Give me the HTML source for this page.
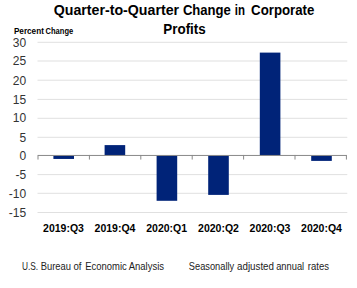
<!DOCTYPE html>
<html><head><meta charset="utf-8">
<style>
html,body{margin:0;padding:0;background:#fff;width:357px;height:288px;overflow:hidden}
svg{display:block}
text{font-family:"Liberation Sans",sans-serif}
</style></head>
<body>
<svg width="357" height="288" viewBox="0 0 357 288">
<rect width="357" height="288" fill="#fff"/>
<!-- gridlines -->
<g fill="#e0e0e0">
<rect x="37.5" y="41.80" width="309.8" height="1"/>
<rect x="37.5" y="60.50" width="309.8" height="1"/>
<rect x="37.5" y="79.70" width="309.8" height="1"/>
<rect x="37.5" y="98.90" width="309.8" height="1"/>
<rect x="37.5" y="117.80" width="309.8" height="1"/>
<rect x="37.5" y="136.80" width="309.8" height="1"/>
<rect x="37.5" y="174.10" width="309.8" height="1"/>
<rect x="37.5" y="192.80" width="309.8" height="1"/>
<rect x="37.5" y="212.00" width="309.8" height="1"/>
</g>
<!-- bars -->
<g fill="#002378">
<rect x="53.4" y="155.45" width="20.6" height="3.5"/>
<rect x="104.6" y="145.1" width="20.6" height="10.35"/>
<rect x="156.6" y="155.45" width="20.6" height="45.35"/>
<rect x="208.2" y="155.45" width="20.6" height="39.45"/>
<rect x="259.8" y="52.6" width="20.6" height="102.85"/>
<rect x="311.2" y="155.45" width="20.6" height="5.45"/>
</g>
<!-- axis -->
<g fill="#898989">
<rect x="38" y="154.95" width="308.4" height="1"/>
<rect x="37.50" y="154.95" width="1" height="4.6"/>
<rect x="88.90" y="154.95" width="1" height="4.6"/>
<rect x="140.30" y="154.95" width="1" height="4.6"/>
<rect x="191.70" y="154.95" width="1" height="4.6"/>
<rect x="243.10" y="154.95" width="1" height="4.6"/>
<rect x="294.50" y="154.95" width="1" height="4.6"/>
<rect x="345.90" y="154.95" width="1" height="4.6"/>
</g>
<!-- title -->
<g font-weight="bold" fill="#000" font-size="14">
<text x="53.75" y="15.2" textLength="125.3" lengthAdjust="spacingAndGlyphs">Quarter-to-Quarter</text>
<text x="182.9" y="15.2" textLength="48.01" lengthAdjust="spacingAndGlyphs">Change</text>
<text x="234.8" y="15.2" textLength="10.2" lengthAdjust="spacingAndGlyphs">in</text>
<text x="251.1" y="15.2" textLength="63.3" lengthAdjust="spacingAndGlyphs">Corporate</text>
<text x="163.3" y="33.9" textLength="42.44" lengthAdjust="spacingAndGlyphs">Profits</text>
</g>
<g font-weight="bold" font-size="8.2" fill="#000">
<text x="13.9" y="33.8" textLength="30.0" lengthAdjust="spacingAndGlyphs">Percent</text>
<text x="45.6" y="33.8" textLength="27.6" lengthAdjust="spacingAndGlyphs">Change</text>
</g>
<!-- y labels -->
<g font-size="12" fill="#333" text-anchor="end">
<text x="26.1" y="46.60">30</text>
<text x="26.1" y="65.30">25</text>
<text x="26.1" y="84.50">20</text>
<text x="26.1" y="103.70">15</text>
<text x="26.1" y="122.40">10</text>
<text x="26.1" y="141.60">5</text>
<text x="26.1" y="159.75">0</text>
<text x="26.1" y="178.90">-5</text>
<text x="26.1" y="197.60">-10</text>
<text x="26.1" y="216.80">-15</text>
</g>
<!-- x labels -->
<g font-size="10.5" font-weight="bold" fill="#000" text-anchor="middle">
<text x="63.5" y="232">2019:Q3</text>
<text x="115" y="232">2019:Q4</text>
<text x="166.7" y="232">2020:Q1</text>
<text x="218.5" y="232">2020:Q2</text>
<text x="270" y="232">2020:Q3</text>
<text x="321.5" y="232">2020:Q4</text>
</g>
<!-- footer -->
<g font-size="10.3" fill="#222">
<text x="21.9" y="269.9" textLength="16.2" lengthAdjust="spacingAndGlyphs">U.S.</text>
<text x="40.8" y="269.9" textLength="30.2" lengthAdjust="spacingAndGlyphs">Bureau</text>
<text x="73.4" y="269.9" textLength="8.03" lengthAdjust="spacingAndGlyphs">of</text>
<text x="85.3" y="269.9" textLength="41.4" lengthAdjust="spacingAndGlyphs">Economic</text>
<text x="128.7" y="269.9" textLength="35.4" lengthAdjust="spacingAndGlyphs">Analysis</text>
<text x="188.8" y="269.9" textLength="45.4" lengthAdjust="spacingAndGlyphs">Seasonally</text>
<text x="237.0" y="269.9" textLength="37.0" lengthAdjust="spacingAndGlyphs">adjusted</text>
<text x="276.2" y="269.9" textLength="28.0" lengthAdjust="spacingAndGlyphs">annual</text>
<text x="307.8" y="269.9" textLength="21.2" lengthAdjust="spacingAndGlyphs">rates</text>
</g>
</svg>
</body></html>
